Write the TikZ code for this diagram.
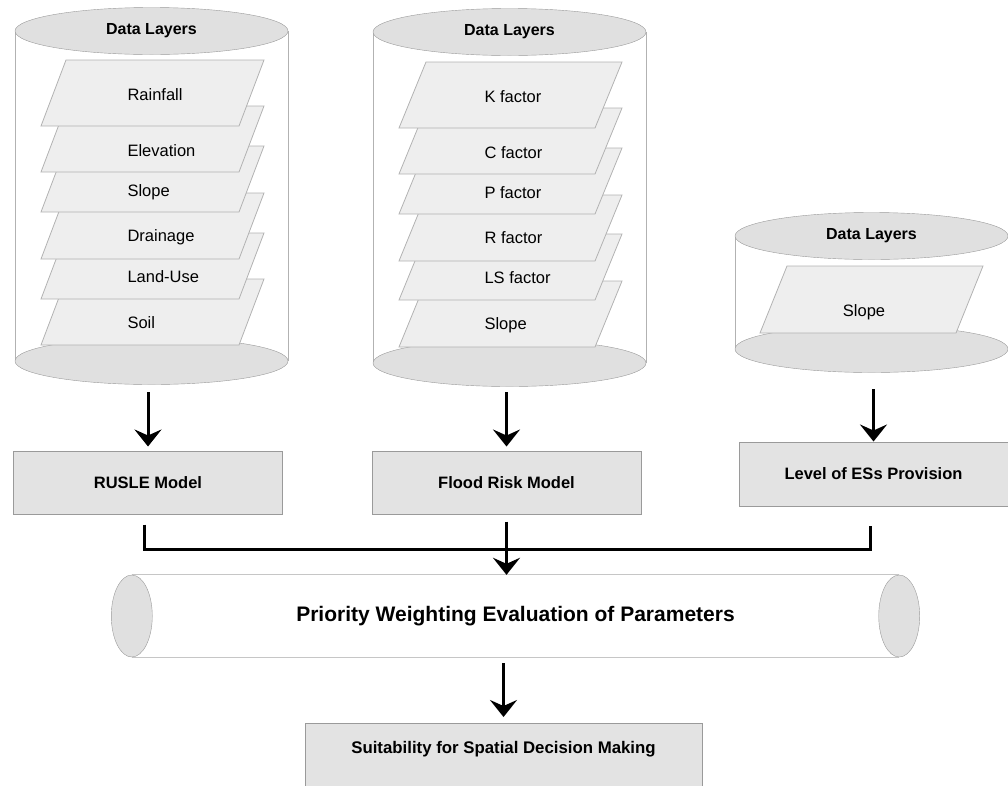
\documentclass[tikz,border=0pt]{standalone}
\usepackage{fontspec}
\setmainfont{Liberation Sans}
\usetikzlibrary{arrows.meta,calc,shapes.geometric}

\definecolor{discgray}{HTML}{E0E0E0}
\definecolor{layergray}{HTML}{EEEEEE}
\definecolor{boxgray}{HTML}{E3E3E3}
\definecolor{edgegray}{HTML}{9A9A9A}

\begin{document}
\begin{tikzpicture}[x=1pt,y=-1pt,
    disc/.style={ellipse, draw=edgegray, fill=discgray, minimum width=273pt, minimum height=47pt, inner sep=0pt,
      font=\fontsize{16}{19}\selectfont\bfseries},
    side/.style={draw=gray!60, line width=0.8pt},
    layer/.style={draw=gray!60, fill=layergray, line width=0.8pt},
    lbl/.style={anchor=west, font=\fontsize{16.5}{19}\selectfont},
    model/.style={rectangle, draw=edgegray, fill=boxgray, line width=1pt, minimum width=269pt, minimum height=63pt,
      font=\fontsize{16.5}{19}\selectfont\bfseries},
    endcap/.style={ellipse, draw=edgegray, fill=discgray, minimum width=41pt, minimum height=82pt, inner sep=0pt},
    arrow/.style={line width=3pt, -{Stealth[length=17pt,width=27pt,inset=6pt]}},
    link/.style={line width=3pt}]
  \useasboundingbox (0,0) rectangle (1008,785);
  \clip (0,0) rectangle (1008,785);

  % first data store
  \draw[side] (15,31) -- (15,361) (288,31) -- (288,361);
  \node[disc] (base1) at (151.5,361) {};
  \node[disc] (top1) at (151.5,31) {Data Layers};
  \foreach \y/\t/\d [count=\i] in {279/Soil/44, 233/Land-Use/44, 193/Drainage/44, 146/Slope/46, 106/Elevation/45, 60/Rainfall/35} {
    \draw[layer] (66,\y) -- ++(198,0) -- ++(-25,66) -- ++(-198,0) -- cycle;
    \node[lbl] (a\i) at (124,\y+\d) {\t};
  }

  % second data store
  \draw[side] (373,32) -- (373,363) (646,32) -- (646,363);
  \node[disc] (base2) at (509.5,363) {};
  \node[disc] (top2) at (509.5,32) {Data Layers};
  \foreach \y/\t/\d [count=\i] in {281/Slope/44, 234/LS factor/44, 195/R factor/43, 148/P factor/45, 108/C factor/45, 62/K factor/35} {
    \draw[layer] (426,\y) -- ++(196,0) -- ++(-27,66) -- ++(-196,0) -- cycle;
    \node[lbl] (b\i) at (481,\y+\d) {\t};
  }

  % third data store
  \draw[side] (735,236) -- (735,349) (1008,236) -- (1008,349);
  \node[disc] (base3) at (871.5,349) {};
  \node[disc] (top3) at (871.5,236) {Data Layers};
  \draw[layer] (787,266) -- ++(196,0) -- ++(-27,67) -- ++(-196,0) -- cycle;
  \node[lbl, anchor=center] (c1) at (864,312) {Slope};

  % models
  \node[model] (rusle) at (148,482.5) {RUSLE Model};
  \node[model] (flood) at (506.5,482.5) {Flood Risk Model};
  \node[model, minimum height=64pt] (level) at (873.5,474) {Level of ESs Provision};

  \draw[arrow, shorten <=7.5pt, shorten >=4pt] (rusle.north |- base1.south) -- (rusle.north);
  \draw[arrow, shorten <=5.5pt, shorten >=4pt] (flood.north |- base2.south) -- (flood.north);
  \draw[arrow, shorten <=16.5pt] (level.north |- base3.south) -- (level.north);

  % weighting pipe
  \node[minimum width=767pt, minimum height=82pt, inner sep=0pt, font=\fontsize{21}{25}\selectfont\bfseries]
    (pipe) at (515.5,616) {Priority Weighting Evaluation of Parameters};
  \draw[side, draw=gray!45] (pipe.north west) -- (pipe.north east) (pipe.south west) -- (pipe.south east);
  \node[endcap] (capl) at (pipe.west) {};
  \node[endcap] (capr) at (pipe.east) {};

  \coordinate (bar) at (506,549);
  \draw[link] ($(rusle.south)+(-4,10)$) |- (bar) -| ($(level.south)+(-3.5,19)$);
  \draw[arrow, shorten <=7pt] (flood.south) -- (flood.south |- pipe.north);

  % result
  \node[model, anchor=north, minimum width=397pt, minimum height=0pt, inner ysep=0pt, text height=30pt, text depth=50pt,
    font=\fontsize{16.8}{19}\selectfont\bfseries]
    (suit) at (503.5,723) {Suitability for Spatial Decision Making};
  \draw[arrow, shorten <=6pt, shorten >=6pt] (suit.north |- pipe.south) -- (suit.north);
\end{tikzpicture}
\end{document}
